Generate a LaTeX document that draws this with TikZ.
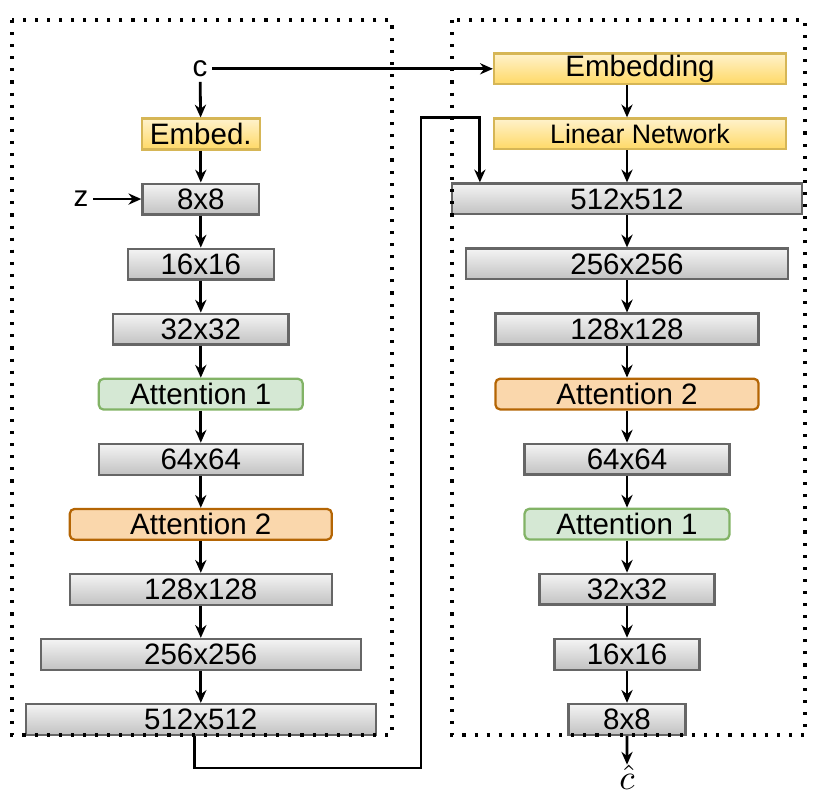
\documentclass[tikz,border=0pt]{standalone}
\usepackage{fontspec}
\setmainfont{Liberation Sans}
\usetikzlibrary{arrows.meta, calc, positioning}

\definecolor{resTop}{HTML}{F4F4F4}
\definecolor{resBot}{HTML}{C2C2C2}
\definecolor{resLine}{HTML}{666666}
\definecolor{embTop}{HTML}{FFF2CC}
\definecolor{embBot}{HTML}{FFD966}
\definecolor{embLine}{HTML}{D6B656}
\definecolor{attAFill}{HTML}{D5E8D4}
\definecolor{attALine}{HTML}{82B366}
\definecolor{attBFill}{HTML}{FAD7AC}
\definecolor{attBLine}{HTML}{B46504}

\begin{document}
\begin{tikzpicture}[
  box/.style={rectangle, line width=1.6pt, minimum height=0.77cm, inner sep=0pt, font=\fontsize{21}{25}\selectfont},
  res/.style={box, draw=resLine, top color=resTop, bottom color=resBot},
  emb/.style={box, draw=embLine, top color=embTop, bottom color=embBot},
  attA/.style={box, rounded corners=0.12cm, draw=attALine, fill=attAFill},
  attB/.style={box, rounded corners=0.12cm, draw=attBLine, fill=attBFill},
  lbl/.style={font=\fontsize{21}{25}\selectfont},
  flow/.style={-{Stealth[length=0.32cm, width=0.28cm]}, line width=2pt},
  frame/.style={line width=2.2pt, dash pattern=on 2.2pt off 6.4pt}
]
  \useasboundingbox (0,0) rectangle (20.45,-19.925);

  % Generator
  \node[lbl] (lc) at (5.0,-1.72) {c};
  \node[emb, minimum width=2.95cm] (lemb) at (5.02,-3.35) {Embed.};
  \node[res, minimum width=2.92cm, below=0.8cm of lemb] (l8) {8x8};
  \node[res, minimum width=3.65cm, below=0.8cm of l8] (l16) {16x16};
  \node[res, minimum width=4.38cm, below=0.8cm of l16] (l32) {32x32};
  \node[attA, minimum width=5.1cm, below=0.8cm of l32] (latt1) {Attention 1};
  \node[res, minimum width=5.1cm, below=0.8cm of latt1] (l64) {64x64};
  \node[attB, minimum width=6.55cm, below=0.8cm of l64] (latt2) {Attention 2};
  \node[res, minimum width=6.55cm, below=0.8cm of latt2] (l128) {128x128};
  \node[res, minimum width=8.0cm, below=0.8cm of l128] (l256) {256x256};
  \node[res, minimum width=8.75cm, below=0.8cm of l256] (l512) {512x512};
  \node[lbl, left=1.2cm of l8] (lz) {z};

  % Discriminator
  \node[emb, minimum width=7.3cm] (remb) at (16.0,-1.72) {Embedding};
  \node[emb, minimum width=7.3cm, below=0.8cm of remb, font=\fontsize{19}{23}\selectfont] (rlin) {Linear Network};
  \node[res, minimum width=8.75cm, below=0.8cm of rlin, xshift=-0.325cm] (r512) {512x512};
  \node[res, minimum width=8.05cm, below=0.8cm of r512] (r256) {256x256};
  \node[res, minimum width=6.58cm, below=0.8cm of r256] (r128) {128x128};
  \node[attB, minimum width=6.58cm, below=0.8cm of r128] (ratt2) {Attention 2};
  \node[res, minimum width=5.12cm, below=0.8cm of ratt2] (r64) {64x64};
  \node[attA, minimum width=5.12cm, below=0.8cm of r64] (ratt1) {Attention 1};
  \node[res, minimum width=4.38cm, below=0.8cm of ratt1] (r32) {32x32};
  \node[res, minimum width=3.62cm, below=0.8cm of r32] (r16) {16x16};
  \node[res, minimum width=2.92cm, below=0.8cm of r16] (r8) {8x8};
  \node[scale=2.5, inner sep=0pt, anchor=north] (chat) at ([yshift=-0.72cm]r8.south) {$\hat{c}$};

  % Arrows
  \draw[flow] (lc) -- (lemb);
  \draw[flow] (lemb) -- (l8);
  \draw[flow] (lz) -- (l8);
  \draw[flow] (l8) -- (l16);
  \draw[flow] (l16) -- (l32);
  \draw[flow] (l32) -- (latt1);
  \draw[flow] (latt1) -- (l64);
  \draw[flow] (l64) -- (latt2);
  \draw[flow] (latt2) -- (l128);
  \draw[flow] (l128) -- (l256);
  \draw[flow] (l256) -- (l512);
  \draw[flow] (lc.east) -- (remb.west);
  \draw[flow] (remb.south -| r512) -- (rlin.north -| r512);
  \draw[flow] (rlin.south -| r512) -- (r512);
  \draw[flow] (r512) -- (r256);
  \draw[flow] (r256) -- (r128);
  \draw[flow] (r128) -- (ratt2);
  \draw[flow] (ratt2) -- (r64);
  \draw[flow] (r64) -- (ratt1);
  \draw[flow] (ratt1) -- (r32);
  \draw[flow] (r32) -- (r16);
  \draw[flow] (r16) -- (r8);
  \draw[flow] (r8) -- (chat);

  % Generator output to discriminator
  \coordinate (turn) at (10.525,-19.2);
  \draw[flow] ([xshift=-0.15cm]l512.south) |- (turn) -- (turn |- rlin.north) -| ([xshift=0.725cm]r512.north west);

  % Frames
  \draw[frame] (0.3,-0.5) rectangle (9.8,-18.375);
  \draw[frame] (11.3,-0.5) rectangle (20.125,-18.375);
\end{tikzpicture}
\end{document}
